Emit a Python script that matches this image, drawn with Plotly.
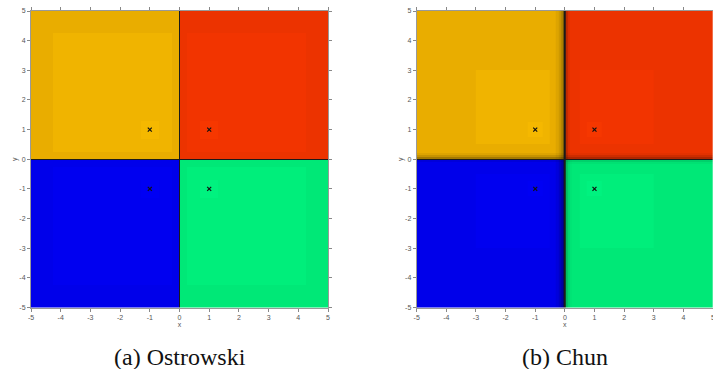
import plotly.graph_objects as go

# ---------------- data ----------------
tick_vals = [-5, -4, -3, -2, -1, 0, 1, 2, 3, 4, 5]
tick_text = ["-5", "-4", "-3", "-2", "-1", "0", "1", "2", "3", "4", "5"]

roots_x = [-1, 1, -1, 1]
roots_y = [1, 1, -1, -1]

captions = ["(a) Ostrowski", "(b) Chun"]

# basin colours per quadrant: [outer, inner, near root]
quad_names = ["TL", "TR", "BL", "BR"]
basin_colors = {
    "TL": ["#E9AD00", "#F0B400", "#F5B800"],
    "TR": ["#EC3300", "#F23400", "#F63700"],
    "BL": ["#0000EA", "#0000F0", "#0000F4"],
    "BR": ["#00E877", "#00EE7B", "#00F27F"],
}
boundary_color = "#1a1a1a"

# Ostrowski: band edges of |x| (or |y|) and iteration level per band
ost_edges = [0, 0.025, 0.25, 0.7, 1.3, 4.25, 5]
ost_levels = [-1, 0, 1, 2, 1, 0]
ost_shade_x = {q: [1, 1, 1, 1, 1, 1] for q in quad_names}
ost_shade_y = {q: [1, 1, 1, 1, 1, 1] for q in quad_names}

# Chun
chun_edges = [0, 0.025, 0.08, 0.15, 0.22, 0.3, 0.5, 0.75, 1.25, 3.0, 5]
chun_levels = [-1, 0, 0, 0, 0, 0, 1, 2, 1, 0]
chun_shade_x = {
    "TL": [1, 0.62, 0.77, 0.88, 0.95, 1, 1, 1, 1, 1],
    "TR": [1, 0.80, 0.94, 1, 1, 1, 1, 1, 1, 1],
    "BL": [1, 0.57, 0.72, 0.84, 0.94, 1, 1, 1, 1, 1],
    "BR": [1, 0.82, 0.93, 0.98, 1, 1, 1, 1, 1, 1],
}
chun_shade_y = {
    "TL": [1, 0.70, 0.85, 0.95, 1, 1, 1, 1, 1, 1],
    "TR": [1, 0.74, 0.87, 0.96, 1, 1, 1, 1, 1, 1],
    "BL": [1, 0.93, 1, 1, 1, 1, 1, 1, 1, 1],
    "BR": [1, 0.90, 0.97, 1, 1, 1, 1, 1, 1, 1],
}

# ---------------- build heatmap tables ----------------
def hex_to_rgb(h):
    h = h.lstrip("#")
    return [int(h[i:i + 2], 16) for i in (0, 2, 4)]


def build(mag_edges, levels, shade_x, shade_y):
    n = len(mag_edges) - 1
    edges = [-e for e in mag_edges[::-1]] + mag_edges[1:]
    idx = list(range(n - 1, -1, -1)) + list(range(n))
    sign = [-1] * n + [1] * n
    cells = []
    for r in range(2 * n):
        row = []
        for c in range(2 * n):
            q = ("T" if sign[r] > 0 else "B") + ("L" if sign[c] < 0 else "R")
            lx, ly = levels[idx[c]], levels[idx[r]]
            if lx < 0 or ly < 0:
                row.append(boundary_color)
                continue
            base = hex_to_rgb(basin_colors[q][min(lx, ly)])
            f = shade_x[q][idx[c]] * shade_y[q][idx[r]]
            rgb = [max(0, min(255, round(v * f))) for v in base]
            row.append("#%02X%02X%02X" % tuple(rgb))
        cells.append(row)
    return edges, cells


panels = [
    build(ost_edges, ost_levels, ost_shade_x, ost_shade_y),
    build(chun_edges, chun_levels, chun_shade_x, chun_shade_y),
]

palette = sorted({c for _, cells in panels for row in cells for c in row})
pidx = {c: i for i, c in enumerate(palette)}
npal = len(palette)
colorscale = []
for i, c in enumerate(palette):
    colorscale.append([i / npal, c])
    colorscale.append([(i + 1) / npal, c])

# ---------------- figure ----------------
W, H = 713, 369
fig = go.Figure()

domains_x = [[31 / W, 328 / W], [416.7 / W, 1.0]]
domain_y = [(H - 307.5) / H, (H - 11) / H]

for k, (edges, cells) in enumerate(panels):
    xa = "x" if k == 0 else "x2"
    ya = "y" if k == 0 else "y2"
    z = [[pidx[c] + 0.5 for c in row] for row in cells]
    fig.add_trace(go.Heatmap(
        x=edges, y=edges, z=z, colorscale=colorscale,
        zmin=0, zmax=npal, showscale=False, zsmooth=False,
        hoverinfo="skip", xaxis=xa, yaxis=ya,
    ))
    fig.add_trace(go.Scatter(
        x=roots_x, y=roots_y, mode="markers",
        marker=dict(symbol="x-thin", size=4, line=dict(width=1.2, color="#111")),
        xaxis=xa, yaxis=ya, showlegend=False, hoverinfo="skip",
    ))

tick_font = dict(family="Liberation Sans, Arial, sans-serif", size=7, color="#555")
axis_common = dict(
    range=[-5, 5], tickvals=tick_vals, ticktext=tick_text,
    ticks="outside", ticklen=3, tickwidth=1, tickcolor="#888",
    showline=True, linecolor="#999", linewidth=1, mirror="ticks",
    showgrid=False, zeroline=False, automargin=False,
    ticklabeloverflow="allow",
    tickfont=tick_font,
)

for k in range(2):
    sx = "" if k == 0 else "2"
    fig.update_layout(**{
        "xaxis" + sx: dict(axis_common, domain=domains_x[k], anchor="y" + sx,
                           title=dict(text="x", standoff=0, font=tick_font)),
        "yaxis" + sx: dict(axis_common, domain=domain_y, anchor="x" + sx,
                           title=dict(text="y", standoff=0, font=tick_font)),
    })

cap_x = [180 / W, 565 / W]
for k, txt in enumerate(captions):
    fig.add_annotation(
        text=txt, x=cap_x[k], y=(H - 356.5) / H, xref="paper", yref="paper",
        showarrow=False, xanchor="center", yanchor="middle",
        font=dict(family="Liberation Serif, serif", size=24, color="#111"),
    )

fig.update_layout(
    width=W, height=H, margin=dict(l=0, r=0, t=0, b=0),
    paper_bgcolor="white", plot_bgcolor="white", showlegend=False,
)

fig.write_html("out.html")
